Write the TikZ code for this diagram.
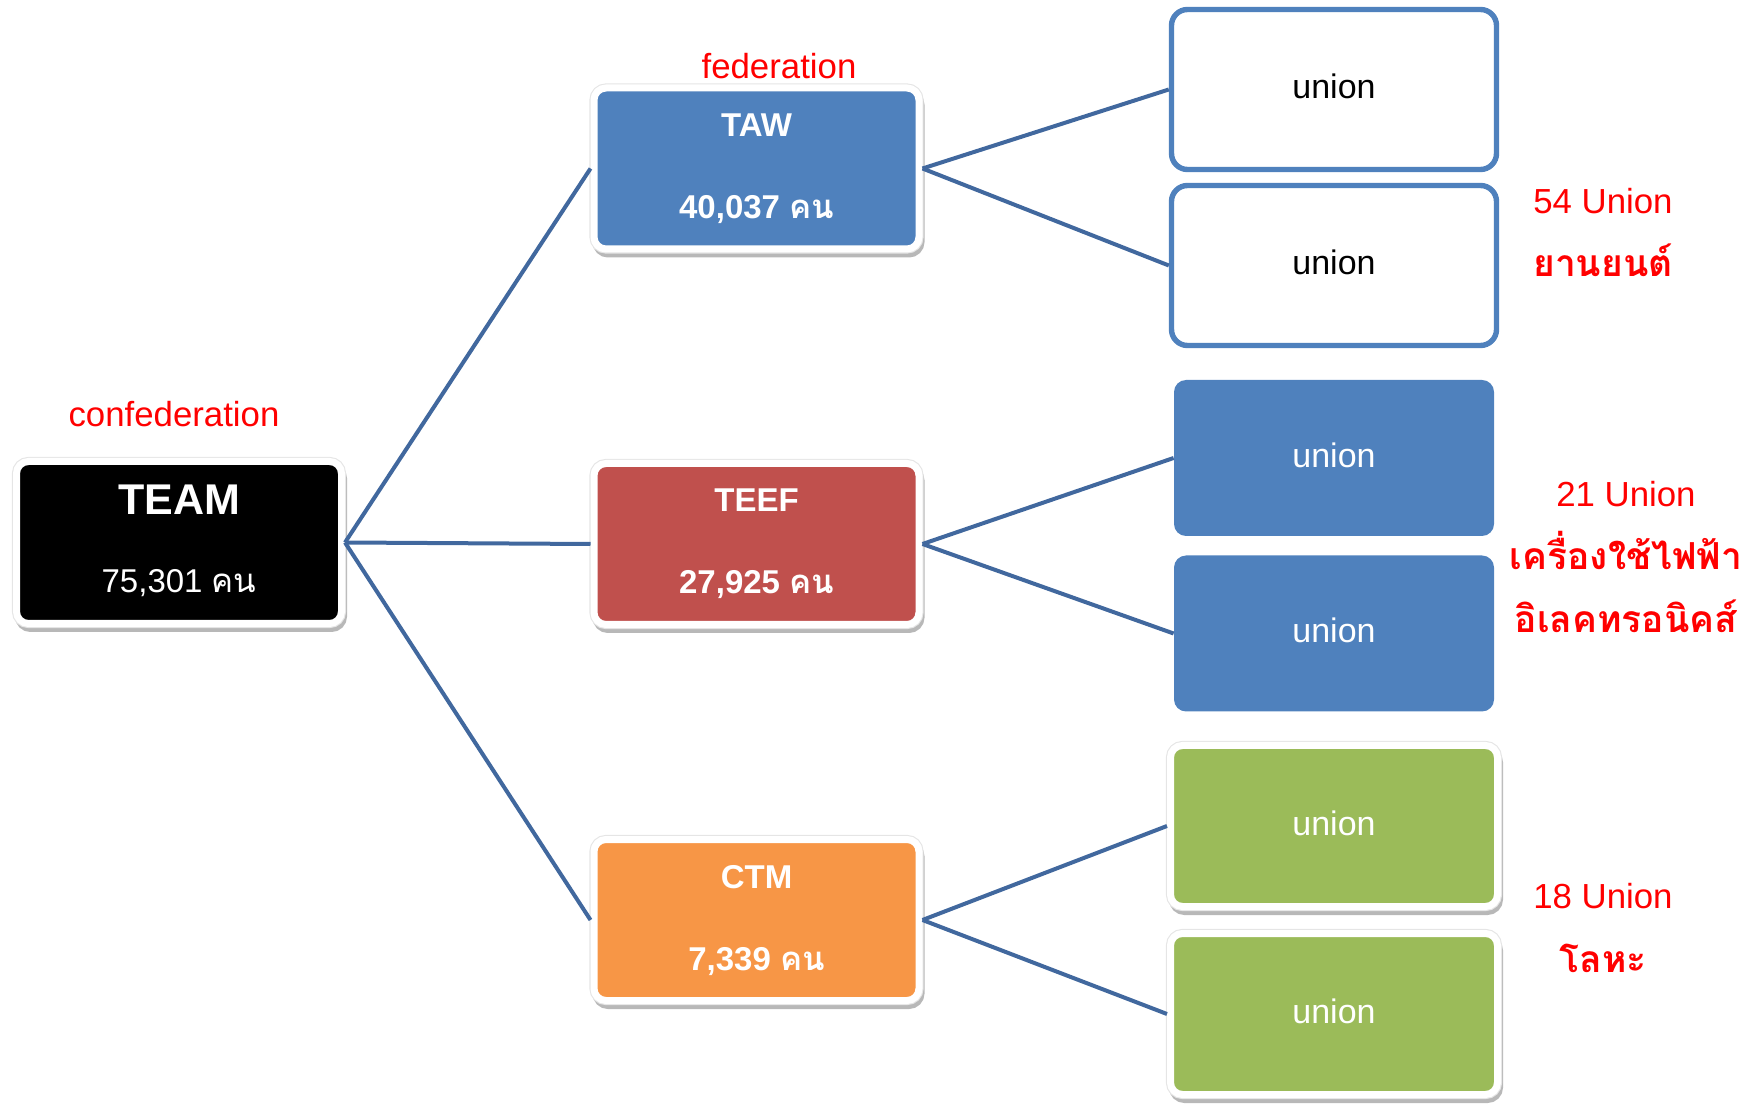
\documentclass[tikz,border=0pt]{standalone}
\usepackage{fontspec}
\setmainfont{Liberation Sans}
\newfontfamily\thai[Script=Thai]{Loma}
\usetikzlibrary{calc}
\definecolor{blueF}{HTML}{4F81BD}
\definecolor{redF}{HTML}{C0504D}
\definecolor{orangeF}{HTML}{F79646}
\definecolor{greenF}{HTML}{9BBB59}
\definecolor{lineC}{HTML}{41689E}
\definecolor{redT}{HTML}{FF0000}
\tikzset{
  shadowed/.style={
    preaction={draw=black!28, fill=black!28, line width=3.5pt,
      transform canvas={xshift=1pt,yshift=-2.5pt}},
    preaction={draw=black!10, line width=4.6pt}},
  whitebox/.style={shadowed, draw=white, line width=3.5pt, rounded corners=6pt,
    inner sep=0pt, minimum width=162.5pt, minimum height=80.5pt},
  outlinebox/.style={draw=blueF, fill=white, line width=2.7pt, rounded corners=8pt,
    inner sep=0pt, minimum width=162.5pt, minimum height=80pt},
  flatbox/.style={fill=blueF, rounded corners=6pt, inner sep=0pt,
    minimum width=160pt, minimum height=78pt},
  greenbox/.style={whitebox, fill=greenF, minimum width=163.5pt, minimum height=80.5pt},
  conn/.style={draw=lineC, line width=2pt},
  boxtxt/.style={text=white, inner sep=0pt, anchor=base,
    font=\bfseries\fontsize{16.5}{19}\selectfont},
  uniontxt/.style={inner sep=0pt, anchor=base, font=\fontsize{17}{20}\selectfont},
  redlbl/.style={text=redT, inner sep=0pt, anchor=base, font=\fontsize{17.4}{20}\selectfont},
  redthai/.style={text=redT, inner sep=0pt, anchor=base, font=\thai\bfseries\fontsize{18.6}{21}\selectfont},
}
\begin{document}
\begin{tikzpicture}[x=0.5pt,y=-0.5pt]
\useasboundingbox (0,0) rectangle (1752,1106);

% confederation
\node[whitebox, fill=black, minimum height=81pt] (team) at (179,542.5) {};
\node[boxtxt, font=\bfseries\fontsize{21.5}{24}\selectfont] (teamname) at ($(team.center)+(0,-28)$) {TEAM};
\node[boxtxt, font=\fontsize{16.5}{19}\selectfont] (teamnum) at ($(team.center)+(0,50)$) {75,301 {\thai คน}};

% federations
\node[whitebox, fill=blueF] (taw) at (756.5,168.5) {};
\node[boxtxt] (tawname) at ($(taw.center)+(0,-32)$) {TAW};
\node[boxtxt] (tawnum) at ($(taw.center)+(0,50)$) {40,037 {\thai คน}};

\node[whitebox, fill=redF] (teef) at (756.5,544) {};
\node[boxtxt] (teefname) at ($(teef.center)+(0,-32)$) {TEEF};
\node[boxtxt] (teefnum) at ($(teef.center)+(0,50)$) {27,925 {\thai คน}};

\node[whitebox, fill=orangeF] (ctm) at (756.5,920) {};
\node[boxtxt] (ctmname) at ($(ctm.center)+(0,-32)$) {CTM};
\node[boxtxt] (ctmnum) at ($(ctm.center)+(0,50)$) {7,339 {\thai คน}};

% unions
\node[outlinebox] (u1) at (1334,89.5) {};
\node[outlinebox] (u2) at (1334,265.5) {};
\node[flatbox] (u3) at (1334,458) {};
\node[flatbox] (u4) at (1334,633.5) {};
\node[greenbox] (u5) at (1334,826) {};
\node[greenbox] (u6) at (1334,1014) {};

\node[uniontxt] (u1t) at ($(u1.center)+(0,9.5)$) {union};
\node[uniontxt] (u2t) at ($(u2.center)+(0,9.5)$) {union};
\node[uniontxt, text=white] (u3t) at ($(u3.center)+(0,9.5)$) {union};
\node[uniontxt, text=white] (u4t) at ($(u4.center)+(0,9.5)$) {union};
\node[uniontxt, text=white] (u5t) at ($(u5.center)+(0,9.5)$) {union};
\node[uniontxt, text=white] (u6t) at ($(u6.center)+(0,9.5)$) {union};

% connectors
\draw[conn] (team.east) -- (taw.west);
\draw[conn] (team.east) -- (teef.west);
\draw[conn] (team.east) -- (ctm.west);
\draw[conn] (taw.east) -- (u1.west);
\draw[conn] (taw.east) -- (u2.west);
\draw[conn] (teef.east) -- (u3.west);
\draw[conn] (teef.east) -- (u4.west);
\draw[conn] (ctm.east) -- (u5.west);
\draw[conn] (ctm.east) -- (u6.west);

% red labels
\node[redlbl] (fedlbl) at (779,79) {federation};
\node[redlbl] (conflbl) at (174,427) {confederation};
\node[redlbl] (l54) at (1603,213.5) {54 Union};
\node[redthai] (l54t) at (1603,277) {ยานยนต์};
\node[redlbl] (l21) at (1626,506.5) {21 Union};
\node[redthai] (l21t) at (1626,570) {เครื่องใช้ไฟฟ้า};
\node[redthai] (l21u) at (1626,633) {อิเลคทรอนิคส์};
\node[redlbl] (l18) at (1603,908.5) {18 Union};
\node[redthai] (l18t) at (1603,972) {โลหะ};
\end{tikzpicture}
\end{document}
